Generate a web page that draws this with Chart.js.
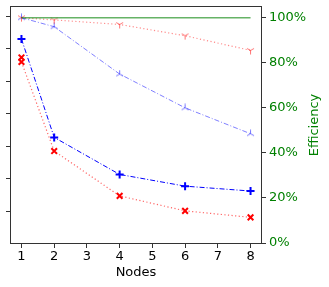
<!DOCTYPE html>
<html>
<head>
<meta charset="utf-8">
<script src="https://cdn.jsdelivr.net/npm/chart.js@4"></script>
<style>
html, body { margin: 0; padding: 0; background: #fff; }
</style>
</head>
<body>
<canvas id="myChart" width="329" height="287"></canvas>
<script>
// data
var nodes = [1, 2, 4, 6, 8]
var timeBlue = [6.31, 3.28, 2.14, 1.78, 1.63]
var timeRed = [5.60, 2.86, 1.48, 1.02, 0.82]
var timeRedExtraX = [1]
var timeRedExtra = [5.74]
var effBlue = [100, 96, 75, 60, 48.5]
var effRed = [100, 99, 97, 92, 85.5]
var effIdeal = [100, 100, 100, 100, 100]
var xTicks = [1, 2, 3, 4, 5, 6, 7, 8]
var effTicks = [0, 20, 40, 60, 80, 100]
var timeTicks = [1, 2, 3, 4, 5, 6, 7]

var FONT = "'DejaVu Sans', sans-serif"
var GREEN = '#008000'
var SPINE = '#333'

function pts(xs, ys) {
  return xs.map(function (x, i) { return { x: x, y: ys[i] } })
}

function triMarker(color, down) {
  var c = document.createElement('canvas')
  c.width = 9; c.height = 9
  var g = c.getContext('2d')
  g.strokeStyle = color
  g.lineWidth = 1
  var s = down ? -1 : 1
  g.beginPath()
  g.moveTo(4.5, 4.5); g.lineTo(4.5, 4.5 - 4 * s)
  g.moveTo(4.5, 4.5); g.lineTo(1, 4.5 + 2 * s)
  g.moveTo(4.5, 4.5); g.lineTo(8, 4.5 + 2 * s)
  g.stroke()
  return c
}

function setTicks(list) {
  return function (scale) {
    scale.ticks = list.map(function (v) { return { value: v } })
  }
}

var framePlugin = {
  id: 'frame',
  afterDraw: function (chart) {
    var a = chart.chartArea, ctx = chart.ctx
    ctx.save()
    ctx.strokeStyle = SPINE
    ctx.lineWidth = 1
    ctx.strokeRect(Math.round(a.left) + 0.5, Math.round(a.top) + 0.5,
      Math.round(a.right - a.left) - 1, Math.round(a.bottom - a.top) - 1)
    // right axis title, reads bottom to top like matplotlib
    ctx.translate(315, 125)
    ctx.rotate(-Math.PI / 2)
    ctx.fillStyle = GREEN
    ctx.font = '13px ' + FONT
    ctx.textAlign = 'center'
    ctx.textBaseline = 'middle'
    ctx.fillText('Efficiency', 0, 0)
    ctx.restore()
  }
}

var ctx = document.getElementById('myChart').getContext('2d')
var chart = new Chart(ctx, {
  type: 'line',
  data: {
    datasets: [
      {
        data: pts(nodes, effIdeal),
        yAxisID: 'y2',
        borderColor: 'rgba(0,128,0,0.6)',
        borderWidth: 1.5,
        pointRadius: 0
      },
      {
        data: pts(nodes, effRed),
        yAxisID: 'y2',
        borderColor: 'rgba(255,0,0,0.45)',
        borderWidth: 1.2,
        borderDash: [1.2, 2.4],
        pointStyle: triMarker('rgba(255,0,0,0.55)', true),
        pointRadius: 4
      },
      {
        data: pts(nodes, effBlue),
        yAxisID: 'y2',
        borderColor: 'rgba(0,0,255,0.5)',
        borderWidth: 1,
        borderDash: [5, 2, 1, 2],
        pointStyle: triMarker('rgba(0,0,255,0.55)', false),
        pointRadius: 4
      },
      {
        data: pts(nodes, timeBlue),
        yAxisID: 'y',
        borderColor: 'rgb(0,0,255)',
        borderWidth: 1,
        borderDash: [5, 2, 1, 2],
        pointStyle: 'cross',
        pointRadius: 4,
        pointBorderWidth: 2,
        pointBorderColor: 'rgb(0,0,255)'
      },
      {
        data: pts(nodes, timeRed),
        yAxisID: 'y',
        borderColor: 'rgba(255,0,0,0.6)',
        borderWidth: 1.2,
        borderDash: [1.2, 2.4],
        pointStyle: 'crossRot',
        pointRadius: 4,
        pointBorderWidth: 2,
        pointBorderColor: 'rgb(255,0,0)'
      },
      {
        data: pts(timeRedExtraX, timeRedExtra),
        yAxisID: 'y',
        showLine: false,
        pointStyle: 'crossRot',
        pointRadius: 4,
        pointBorderWidth: 2,
        pointBorderColor: 'rgb(255,0,0)'
      }
    ]
  },
  options: {
    responsive: false,
    animation: false,
    devicePixelRatio: 1,
    layout: { padding: { left: 6, top: 6, right: 0, bottom: 0 } },
    plugins: { legend: { display: false }, tooltip: { enabled: false } },
    scales: {
      x: {
        type: 'linear',
        min: 0.65,
        max: 8.35,
        afterBuildTicks: setTicks(xTicks),
        afterFit: function (s) { s.height = 43; s.paddingLeft = 0; s.paddingRight = 0 },
        border: { display: false },
        grid: { drawOnChartArea: false, tickLength: 4, color: SPINE },
        ticks: { color: '#000', padding: 1, font: { family: FONT, size: 13 } },
        title: {
          display: true, text: 'Nodes', color: '#000',
          font: { family: FONT, size: 13 }, padding: { top: 0, bottom: 7 }
        }
      },
      y: {
        position: 'left',
        min: 0,
        max: 7.323,
        afterBuildTicks: setTicks(timeTicks),
        afterFit: function (s) { s.width = 4; s.paddingTop = 0; s.paddingBottom = 0 },
        border: { display: false },
        grid: { drawOnChartArea: false, tickLength: 4, color: SPINE },
        ticks: { display: false }
      },
      y2: {
        position: 'right',
        min: -0.44,
        max: 105.2,
        afterBuildTicks: setTicks(effTicks),
        afterFit: function (s) { s.width = 67; s.paddingTop = 0; s.paddingBottom = 0 },
        border: { display: false },
        grid: { drawOnChartArea: false, tickLength: 4, color: SPINE },
        ticks: {
          color: GREEN, padding: 3, font: { family: FONT, size: 13 },
          callback: function (v) { return v + '%' }
        }
      }
    }
  },
  plugins: [framePlugin]
})
</script>
</body>
</html>
